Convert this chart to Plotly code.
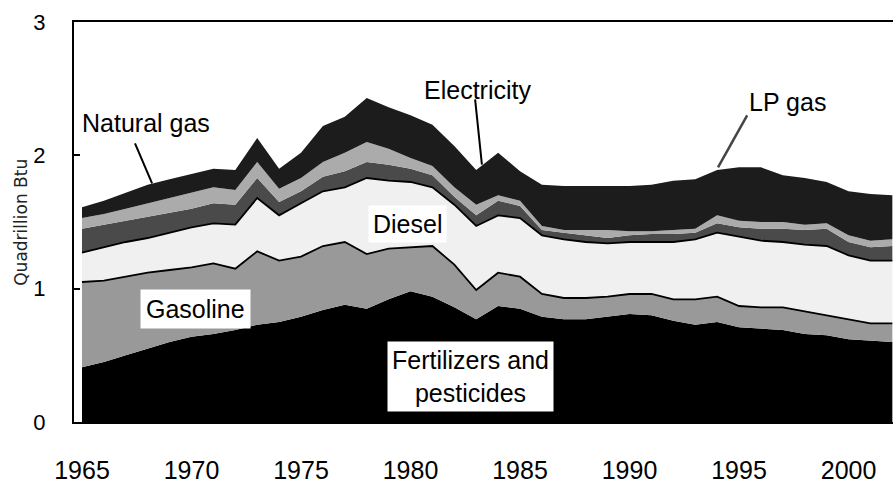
import plotly.graph_objects as go

years = list(range(1965, 2003))

fertilizers = [0.41, 0.45, 0.50, 0.55, 0.60, 0.64, 0.66, 0.69, 0.73, 0.75,
               0.79, 0.84, 0.88, 0.85, 0.92, 0.98, 0.94, 0.86, 0.77, 0.87,
               0.85, 0.79, 0.77, 0.77, 0.79, 0.81, 0.80, 0.76, 0.73, 0.75,
               0.71, 0.70, 0.69, 0.66, 0.65, 0.62, 0.61, 0.60]
gasoline = [0.64, 0.61, 0.59, 0.57, 0.54, 0.52, 0.53, 0.46, 0.55, 0.46,
            0.45, 0.48, 0.47, 0.41, 0.38, 0.33, 0.38, 0.32, 0.22, 0.25,
            0.24, 0.17, 0.16, 0.16, 0.15, 0.15, 0.16, 0.16, 0.19, 0.19,
            0.16, 0.16, 0.17, 0.17, 0.15, 0.15, 0.13, 0.14]
diesel = [0.22, 0.25, 0.26, 0.26, 0.28, 0.30, 0.30, 0.33, 0.40, 0.34,
          0.40, 0.41, 0.41, 0.57, 0.51, 0.49, 0.44, 0.45, 0.48, 0.43,
          0.44, 0.44, 0.44, 0.42, 0.40, 0.39, 0.39, 0.43, 0.45, 0.48,
          0.52, 0.50, 0.49, 0.50, 0.52, 0.48, 0.47, 0.47]
lp_gas = [0.18, 0.17, 0.16, 0.16, 0.15, 0.14, 0.15, 0.15, 0.15, 0.10,
          0.09, 0.11, 0.12, 0.12, 0.12, 0.10, 0.09, 0.06, 0.08, 0.11,
          0.09, 0.04, 0.05, 0.05, 0.04, 0.05, 0.06, 0.06, 0.05, 0.07,
          0.07, 0.09, 0.10, 0.11, 0.13, 0.10, 0.10, 0.11]
natural_gas = [0.08, 0.08, 0.09, 0.10, 0.11, 0.12, 0.12, 0.11, 0.12, 0.10,
               0.10, 0.11, 0.14, 0.15, 0.12, 0.08, 0.07, 0.07, 0.08, 0.04,
               0.04, 0.03, 0.02, 0.04, 0.06, 0.03, 0.02, 0.03, 0.03, 0.06,
               0.05, 0.05, 0.05, 0.04, 0.04, 0.05, 0.05, 0.05]
electricity = [0.08, 0.10, 0.12, 0.14, 0.14, 0.14, 0.14, 0.15, 0.18, 0.15,
               0.19, 0.27, 0.27, 0.33, 0.31, 0.32, 0.31, 0.31, 0.26, 0.32,
               0.22, 0.31, 0.33, 0.33, 0.33, 0.34, 0.35, 0.37, 0.37, 0.34,
               0.40, 0.41, 0.35, 0.35, 0.31, 0.33, 0.35, 0.33]

tick_years = [1965, 1970, 1975, 1980, 1985, 1990, 1995, 2000]
tick_labels = ["1965", "1970", "1975", "1980", "1985", "1990", "1995", "2000"]
y_ticks = [0, 1, 2, 3]

layers = [
    ("Fertilizers and pesticides", fertilizers, "#000000", "#000000", 0),
    ("Gasoline", gasoline, "#999999", "#000000", 1.8),
    ("Diesel", diesel, "#f0f0f0", "#000000", 1.8),
    ("LP gas", lp_gas, "#4a4a4a", "#4a4a4a", 0),
    ("Natural gas", natural_gas, "#ababab", "#ababab", 0),
    ("Electricity", electricity, "#1c1c1c", "#1c1c1c", 0),
]

fig = go.Figure()
for name, vals, fill, lc, lw in layers:
    fig.add_trace(go.Scatter(
        x=years, y=vals, name=name, mode="lines", stackgroup="one",
        fillcolor=fill, line=dict(color=lc, width=lw), hoverinfo="skip"))

FONT = "Arial, Liberation Sans, sans-serif"

fig.update_layout(
    width=893, height=485,
    margin=dict(l=74, r=0, t=22, b=63, autoexpand=False),
    paper_bgcolor="white", plot_bgcolor="white",
    showlegend=False,
    xaxis=dict(range=[1964.635, 2002.03], showgrid=False, zeroline=False,
               showline=True, linecolor="black", linewidth=2, mirror=True,
               ticks="", tickvals=tick_years, ticktext=tick_labels,
               tickfont=dict(family=FONT, size=25, color="black"),
               ticklabelstandoff=25, automargin=False),
    yaxis=dict(range=[0, 3], showgrid=False, zeroline=False,
               showline=True, linecolor="black", linewidth=2, mirror=False,
               ticks="inside", ticklen=6, tickwidth=2, tickcolor="black",
               tickvals=y_ticks,
               tickfont=dict(family=FONT, size=22, color="black"),
               ticklabelstandoff=22, automargin=False),
)

def ann(text, x, y, bg=None, pad=0):
    fig.add_annotation(x=x, y=y, xref="x", yref="y", text=text, showarrow=False,
                       font=dict(family=FONT, size=25, color="black"),
                       bgcolor=bg if bg else "rgba(0,0,0,0)", borderpad=pad,
                       xanchor="center", yanchor="middle")

ann("Natural gas", 1967.92, 2.24)
ann("Electricity", 1983.04, 2.49)
ann("LP gas", 1997.19, 2.40)
ann("Diesel", 1979.84, 1.485, bg="white", pad=4)
ann("Gasoline", 1970.16, 0.85, bg="white", pad=5)
ann("Fertilizers and<br>pesticides", 1982.72, 0.345, bg="white", pad=4)

fig.add_shape(type="line", xref="x", yref="y", x0=1967.42, y0=2.09, x1=1968.2, y1=1.79,
              line=dict(color="black", width=2))
fig.add_shape(type="line", xref="x", yref="y", x0=1982.95, y0=2.42, x1=1983.26, y1=1.93,
              line=dict(color="black", width=2))
fig.add_shape(type="line", xref="x", yref="y", x0=1995.37, y0=2.30, x1=1994.04, y1=1.91,
              line=dict(color="#444444", width=2.5))

fig.add_annotation(x=-0.065, y=0.5, xref="paper", yref="paper", text="Quadrillion Btu",
                   textangle=-90, showarrow=False, xanchor="center", yanchor="middle",
                   font=dict(family="DejaVu Sans", size=17, color="#222222"))

fig.write_html("out.html", config={"displayModeBar": False},
               post_script="document.body.style.margin='0';document.body.style.overflow='hidden';")
